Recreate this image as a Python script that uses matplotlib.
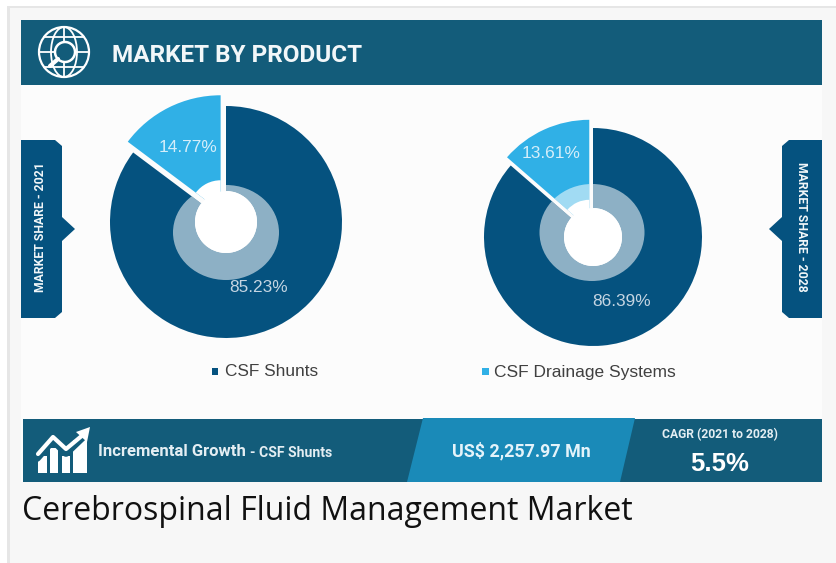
import matplotlib
matplotlib.use('Agg')
import matplotlib.pyplot as plt
from matplotlib.patches import Rectangle, Polygon, Circle, Ellipse

W = 836
H = 563

products = ['CSF Drainage Systems', 'CSF Shunts']
share2021 = [14.77, 85.23]
share2028 = [13.61, 86.39]
colors = ['#30b0e6', '#05527f']

NARROW = ['Roboto', 'Liberation Sans']
SANS = ['Liberation Sans']

def Y(y):
    return H - y

def rect(ax, x0, y0, x1, y1, color, z=1):
    ax.add_patch(Rectangle((x0, Y(y1)), x1 - x0, y1 - y0, fc=color, ec='none', zorder=z))

def poly(ax, pts, color, z=2):
    ax.add_patch(Polygon([(x, Y(y)) for x, y in pts], closed=True, fc=color, ec='none', zorder=z))

def line(ax, xs, ys, lw=1.6, z=4, color='white'):
    ax.plot(xs, [Y(v) for v in ys], color=color, lw=lw, zorder=z, solid_capstyle='round')

def donut(ax, vals, cx, cy, r, expl, hole, ring_cx, ring_w, ring_h, ring_cy, ring_light):
    c = (cx, Y(cy))
    # explode is in data units here, so it is given in pixels
    wedges, _ = ax.pie(vals, colors=colors, startangle=90, counterclock=True, radius=r,
                       center=c, explode=[expl, 0], frame=True,
                       wedgeprops=dict(zorder=3, linewidth=0))
    # pale ring, cut to the slice it sits on
    for i, w in enumerate(wedges):
        if i == 0 and not ring_light:
            continue
        e = Ellipse((ring_cx, Y(ring_cy)), ring_w, ring_h, fc='white', ec='none', alpha=0.55, zorder=4)
        ax.add_patch(e)
        e.set_clip_path(w)
    ax.pie(vals, colors=['white', 'white'], startangle=90, counterclock=True, radius=hole,
           center=c, explode=[expl, 0], frame=True,
           wedgeprops=dict(zorder=5, linewidth=0))
    ax.add_patch(Circle(c, hole, fc='white', ec='none', zorder=5.5))

fig = plt.figure(figsize=(W / 100, H / 100), dpi=100, facecolor='white')
ax = fig.add_axes([0, 0, 1, 1])

# page + card
rect(ax, 7, 6, W, H, '#e6e6e6', 0)
rect(ax, 10, 8, W, H, '#f7f7f7', 0)
rect(ax, 21, 85, 822, 482, '#fcfcfc', 1)

# header
rect(ax, 21, 20, 822, 85, '#135c7a', 2)
ax.text(112, Y(55), 'MARKET BY PRODUCT', color='#f2f7f9', fontsize=17.5, family=NARROW,
        weight='bold', va='center', ha='left', zorder=5)

# globe icon
ax.add_patch(Circle((64, Y(52)), 25, fc='none', ec='white', lw=1.6, zorder=4))
ax.add_patch(Ellipse((64, Y(52)), 26, 50, fc='none', ec='white', lw=1.3, zorder=4))
line(ax, [64, 64], [27, 77], 1.3)
line(ax, [44, 84], [37, 37], 1.3)
line(ax, [39, 89], [52, 52], 1.3)
line(ax, [44, 84], [67, 67], 1.3)
ax.add_patch(Circle((65, Y(52)), 10, fc='#135c7a', ec='white', lw=1.8, zorder=5))
line(ax, [50, 58], [66, 59], 3, 5)

# side tabs
poly(ax, [(21, 140), (55, 140), (62, 146), (62, 217), (75, 229), (62, 241), (62, 312), (55, 318), (21, 318)], '#05527f')
poly(ax, [(822, 140), (789, 140), (782, 146), (782, 217), (769, 229), (782, 241), (782, 312), (789, 318), (822, 318)], '#05527f')
ax.text(41, Y(227), 'MARKET SHARE - 2021', color='#f2f7f9', fontsize=8.8, family=NARROW, weight='bold',
        rotation=90, ha='center', va='center', zorder=5)
ax.text(802, Y(227), 'MARKET SHARE - 2028', color='#f2f7f9', fontsize=8.8, family=NARROW, weight='bold',
        rotation=270, ha='center', va='center', zorder=5)

# pies
donut(ax, share2021, 226, 222, 116, 12, 31, 226, 106, 95, 232.5, False)
donut(ax, share2028, 593, 237, 109, 9, 29, 592, 105, 97, 232.5, True)

ax.text(188.5, Y(147), '%.2f%%' % share2021[0], color='#d5eefa', fontsize=12.4, family=SANS, ha='center', va='center', zorder=6)
ax.text(259, Y(288), '%.2f%%' % share2021[1], color='#c5d5e2', fontsize=12.4, family=SANS, ha='center', va='center', zorder=6)
ax.text(551, Y(154), '%.2f%%' % share2028[0], color='#d5eefa', fontsize=12.4, family=SANS, ha='center', va='center', zorder=6)
ax.text(621.5, Y(301), '%.2f%%' % share2028[1], color='#c5d5e2', fontsize=12.4, family=SANS, ha='center', va='center', zorder=6)

# legend
rect(ax, 212, 368, 218, 375, colors[1], 3)
ax.text(225, Y(371), products[1], color='#404040', fontsize=12.4, family=SANS, va='center', zorder=5)
rect(ax, 482, 368, 489, 375, colors[0], 3)
ax.text(494, Y(372), products[0], color='#404040', fontsize=12.5, family=SANS, va='center', zorder=5)

# bottom band
rect(ax, 23, 419, 822, 482, '#135c7a', 2)
poly(ax, [(423, 418), (635, 418), (620, 482), (407, 482)], '#1a8ab8', 3)

# growth icon
for x0, x1, y0 in [(38, 47, 456), (50, 58, 448), (62, 70, 456), (73, 87, 440)]:
    rect(ax, x0, y0, x1, 473, 'white', 4)
line(ax, [37, 53, 66, 88], [458, 440, 453, 432], 5.5, 5, '#135c7a')
line(ax, [38, 53, 66, 84], [454, 437, 449, 434], 3, 6)
poly(ax, [(76, 432), (90, 427), (87, 442)], 'white', 6)

ax.text(98, Y(452), 'Incremental Growth', color='#e4eef3', fontsize=12, family=NARROW, weight='bold',
        va='center', zorder=5)
ax.text(250, Y(453), '- CSF Shunts', color='#e4eef3', fontsize=10.1, family=NARROW, weight='bold',
        va='center', zorder=5)
ax.text(521, Y(451), 'US$ 2,257.97 Mn', color='#e4f3fa', fontsize=12.9, family=NARROW, weight='bold',
        ha='center', va='center', zorder=5)
ax.text(720, Y(435), 'CAGR (2021 to 2028)', color='#e4eef3', fontsize=8.7, family=NARROW, weight='bold',
        ha='center', va='center', zorder=5)
ax.text(720, Y(464), '5.5%', color='white', fontsize=18.5, family=SANS, weight='bold',
        ha='center', va='center', zorder=5)

# caption
ax.text(22, Y(512), 'Cerebrospinal Fluid Management Market', color='#111111', fontsize=23,
        family=['Open Sans'], va='center', zorder=5)

ax.set_xlim(0, W)
ax.set_ylim(0, H)
ax.set_aspect('equal')
ax.axis('off')

fig.savefig('out.png', dpi=100, facecolor='white')
